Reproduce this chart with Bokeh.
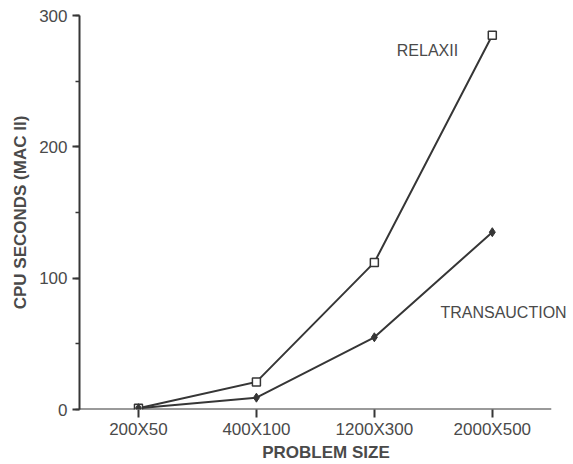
from bokeh.plotting import figure
from bokeh.models import Range1d, SingleIntervalTicker, FixedTicker, Label
from bokeh.embed import file_html
from bokeh.resources import INLINE

# Data
categories = ["200X50", "400X100", "1200X300", "2000X500"]
relaxii = [1, 21, 112, 285]
transauction = [1, 9, 55, 135]
y_ticks_interval = 100

xs = list(range(len(categories)))
x_lo = -0.5
x_hi = len(categories) - 0.5

FONT = "Liberation Sans"
INK = "#363636"
TXT = "#4a4a4a"

p = figure(width=573, height=464, output_backend="svg", toolbar_location=None,
           x_range=Range1d(x_lo, x_hi + 0.18),
           y_range=Range1d(0, 300),
           min_border_left=79, min_border_right=1, min_border_top=15, min_border_bottom=55)
p.outline_line_color = None
p.xgrid.grid_line_color = None
p.ygrid.grid_line_color = None
p.background_fill_color = "white"
p.border_fill_color = "white"

# x baseline spanning the category band only
p.segment(x0=[x_lo], y0=[0], x1=[x_hi], y1=[0], line_color=INK, line_width=2)

# lines
p.line(xs, relaxii, line_color=INK, line_width=2)
p.line(xs, transauction, line_color=INK, line_width=2)
p.scatter(xs, relaxii, marker="square", size=8, fill_color="white",
          line_color=INK, line_width=1.5)
p.scatter(xs, transauction, marker="diamond", size=9, fill_color=INK,
          line_color=INK, line_width=1)

# y axis
ya = p.yaxis[0]
ya.ticker = SingleIntervalTicker(interval=y_ticks_interval, num_minor_ticks=2)
ya.axis_line_color = INK
ya.axis_line_width = 2
ya.major_tick_line_color = INK
ya.major_tick_line_width = 2
ya.major_tick_out = 7
ya.major_tick_in = 0
ya.minor_tick_line_color = INK
ya.minor_tick_line_width = 1.5
ya.minor_tick_out = 4
ya.minor_tick_in = 0
ya.major_label_text_font = FONT
ya.major_label_text_font_size = "17px"
ya.major_label_text_color = TXT
ya.major_label_standoff = 5
ya.axis_label = "CPU SECONDS (MAC II)"
ya.axis_label_text_font = FONT
ya.axis_label_text_font_size = "17px"
ya.axis_label_text_font_style = "bold"
ya.axis_label_text_color = TXT
ya.axis_label_standoff = 6

# x axis
xa = p.xaxis[0]
xa.ticker = FixedTicker(ticks=xs)
xa.major_label_overrides = {i: c for i, c in zip(xs, categories)}
xa.axis_line_color = None
xa.major_tick_line_color = INK
xa.major_tick_line_width = 2
xa.major_tick_out = 8
xa.major_tick_in = 0
xa.minor_tick_line_color = None
xa.major_label_text_font = FONT
xa.major_label_text_font_size = "17px"
xa.major_label_text_color = TXT
xa.major_label_standoff = 2
xa.axis_label = "PROBLEM SIZE"
xa.axis_label_text_font = FONT
xa.axis_label_text_font_size = "17px"
xa.axis_label_text_font_style = "bold"
xa.axis_label_text_color = TXT
xa.axis_label_standoff = 1

# series labels
p.add_layout(Label(x=2.19, y=273, text="RELAXII", text_font=FONT, text_font_size="16px",
                   text_color=TXT, text_baseline="middle", text_align="left"))
p.add_layout(Label(x=2.56, y=74, text="TRANSAUCTION", text_font=FONT, text_font_size="16px",
                   text_color=TXT, text_baseline="middle", text_align="left"))

open("out.html", "w").write(file_html(p, INLINE))
